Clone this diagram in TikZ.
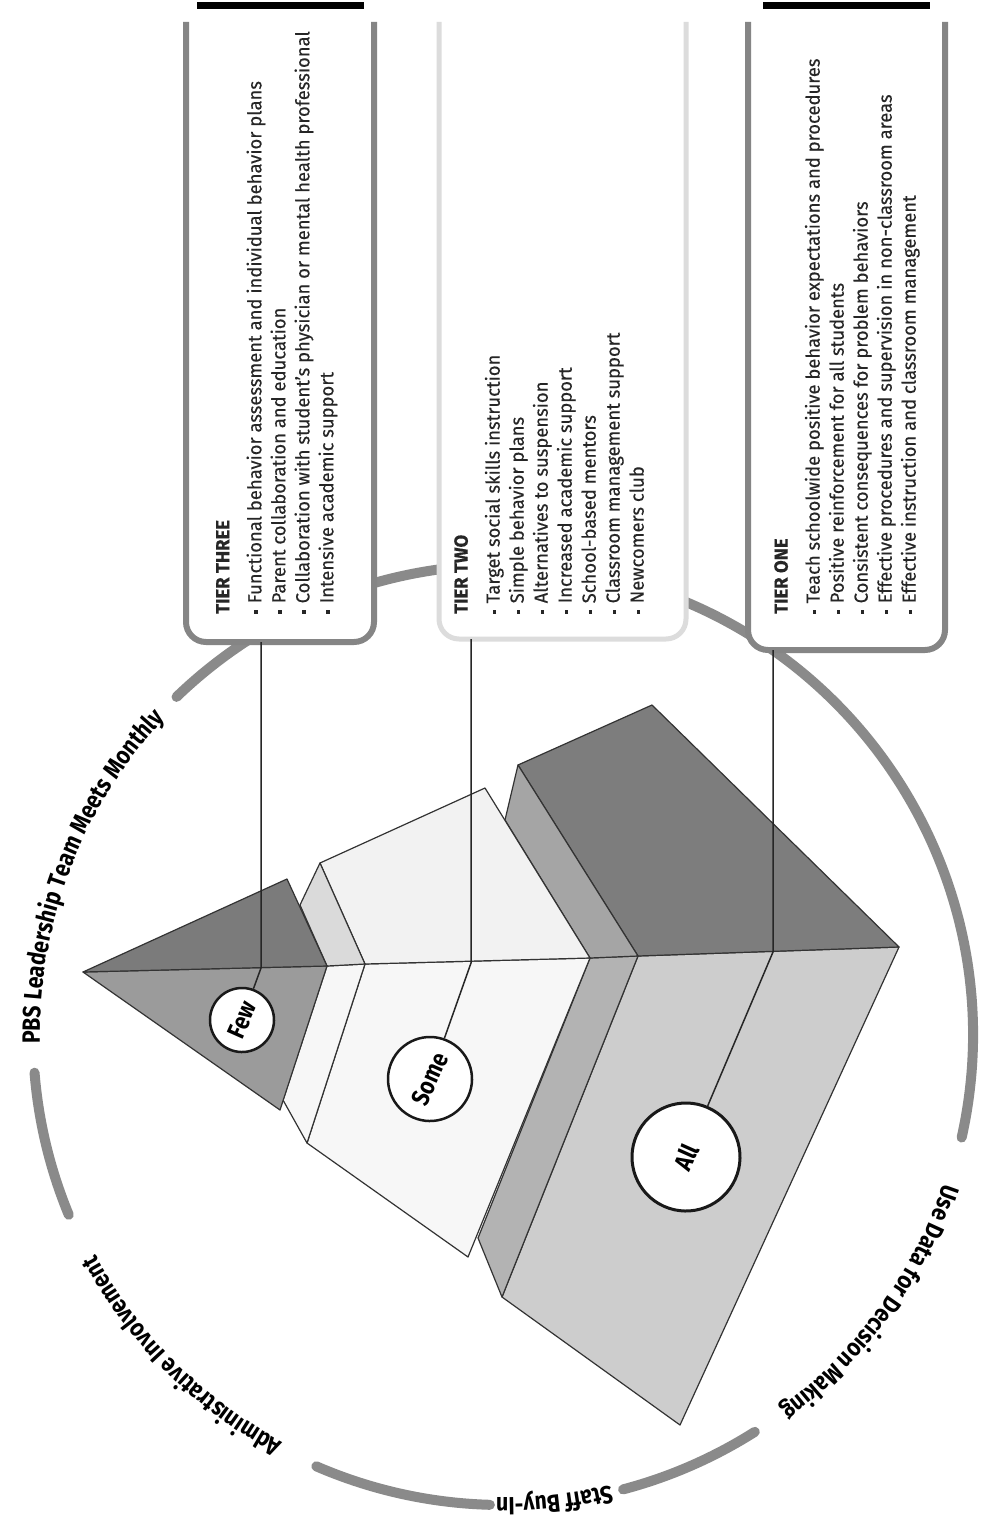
\documentclass[tikz,border=0pt]{standalone}
\usepackage{fontspec}
\setmainfont{Fira Sans}
\newfontfamily\ringfont[FakeStretch=0.85]{Fira Sans}
\newfontfamily\tierfont[FakeStretch=0.97,FakeBold=0.3]{Fira Sans}
\usetikzlibrary{decorations.text}
\definecolor{ringgray}{HTML}{8A8A8A}
\definecolor{boxgray}{HTML}{858585}
\definecolor{boxlight}{HTML}{DCDCDC}
\definecolor{fewtop}{HTML}{7B7B7B}
\definecolor{fewfront}{HTML}{9B9B9B}
\definecolor{somesliver}{HTML}{DADADA}
\definecolor{sometop}{HTML}{F2F2F2}
\definecolor{somefront}{HTML}{F7F7F7}
\definecolor{allsideup}{HTML}{A5A5A5}
\definecolor{alltop}{HTML}{7D7D7D}
\definecolor{allsidelow}{HTML}{B3B3B3}
\definecolor{allfront}{HTML}{CDCDCD}
\newcommand{\tbul}{\raisebox{3.5pt}{\rule{3.5pt}{3.5pt}}\hspace{7pt}}
\tikzset{
  ringarc/.style={draw=ringgray, line width=10pt, line cap=round},
  face/.style={draw=black!80, line width=1.2pt, line join=round},
  tierbox/.style={draw=boxgray, line width=6pt, fill=white, rounded corners=20pt},
  tierboxlight/.style={draw=boxlight, line width=5pt, fill=white, rounded corners=20pt},
  tiertext/.style={rotate=90, anchor=north west, inner sep=0pt, align=left,
    font=\tierfont\fontsize{19}{24}\selectfont, text=black!85},
  lab/.style={circle, draw=black!90, line width=2.5pt, fill=white, inner sep=0pt,
    font=\ringfont\bfseries\fontsize{25}{25}\selectfont},
  conn/.style={draw=black!85, line width=1.5pt},
  bar/.style={fill=black}
}
\begin{document}
\begin{tikzpicture}[x=1pt,y=1pt]
\useasboundingbox (0,0) rectangle (984,-1528);
\fill[white] (0,0) rectangle (984,-1528);
\coordinate (ctr) at (503,-1035);
% ring arcs
\draw[ringarc] (ctr) ++(-12.6:470pt) arc[start angle=-12.6, end angle=134, radius=470pt];
\draw[ringarc] (ctr) ++(184.6:470pt) arc[start angle=184.6, end angle=202.5, radius=470pt];
\draw[ringarc] (ctr) ++(246.6:470pt) arc[start angle=246.6, end angle=268.4, radius=470pt];
\draw[ringarc] (ctr) ++(284.8:470pt) arc[start angle=284.8, end angle=302.4, radius=470pt];
% ring texts
\path[decorate, decoration={text along path, text align=center,
  text={|\ringfont\bfseries\fontsize{25}{25}\selectfont|PBS Leadership Team Meets Monthly}}]
  (ctr) ++(204:463pt) arc[start angle=204, end angle=114, radius=463pt];
\path[decorate, decoration={text along path, text align=center,
  text={|\ringfont\bfseries\fontsize{25}{25}\selectfont|Administrative Involvement}}]
  (ctr) ++(270:463pt) arc[start angle=270, end angle=180, radius=463pt];
\path[decorate, decoration={text along path, text align=center,
  text={|\ringfont\bfseries\fontsize{25}{25}\selectfont|Staff Buy-In}}]
  (ctr) ++(306.3:463pt) arc[start angle=306.3, end angle=246.3, radius=463pt];
\path[decorate, decoration={text along path, text align=center,
  text={|\ringfont\bfseries\fontsize{25}{25}\selectfont|Use Data for Decision Making}}]
  (ctr) ++(369:465pt) arc[start angle=369, end angle=279, radius=465pt];
% tier boxes
\path[tierbox] (186,-22) -- (186,-642) -- (374,-642) -- (374,-22);
\path[tierboxlight] (439,-22) -- (439,-639) -- (686,-639) -- (686,-22);
\path[tierbox] (748,-22) -- (748,-650) -- (945,-650) -- (945,-22);
\coordinate (t3b) at (261,-642);
\coordinate (t2b) at (471,-639);
\coordinate (t1b) at (773,-650);
\node[tiertext] (t3txt) at (216,-614) {\textbf{TIER THREE}\\[8pt]
\tbul Functional behavior assessment and individual behavior plans\\
\tbul Parent collaboration and education\\
\tbul Collaboration with student’s physician or mental health professional\\
\tbul Intensive academic support};
\node[tiertext] (t2txt) at (454,-614) {\textbf{TIER TWO}\\[8pt]
\tbul Target social skills instruction\\
\tbul Simple behavior plans\\
\tbul Alternatives to suspension\\
\tbul Increased academic support\\
\tbul School-based mentors\\
\tbul Classroom management support\\
\tbul Newcomers club};
\node[tiertext] (t1txt) at (774,-614) {\textbf{TIER ONE}\\[8pt]
\tbul Teach schoolwide positive behavior expectations and procedures\\
\tbul Positive reinforcement for all students\\
\tbul Consistent consequences for problem behaviors\\
\tbul Effective procedures and supervision in non-classroom areas\\
\tbul Effective instruction and classroom management};
% pyramid: tier one block (All)
\path[face, fill=allfront] (638,-956) -- (899,-947) -- (680,-1425) -- (502,-1297) -- cycle;
\path[face, fill=allsidelow] (590,-958) -- (638,-956) -- (502,-1297) -- (478,-1238) -- cycle;
\path[face, fill=alltop] (518,-765) -- (652,-705) -- (899,-947) -- (638,-956) -- cycle;
\path[face, fill=allsideup] (518,-765) -- (638,-956) -- (590,-958) -- (505,-820) -- cycle;
% tier two block (Some)
\path[face, fill=somefront] (365,-964) -- (590,-958) -- (468,-1257) -- (307,-1143) -- cycle;
\path[face, fill=somefront] (327,-966) -- (365,-964) -- (307,-1143) -- (283,-1100) -- cycle;
\path[face, fill=sometop] (320,-863) -- (485,-788) -- (590,-958) -- (365,-964) -- cycle;
\path[face, fill=somesliver] (320,-863) -- (365,-964) -- (327,-966) -- (300,-905) -- cycle;
% tier three block (Few)
\path[face, fill=fewfront] (83,-972) -- (327,-966) -- (280,-1110) -- cycle;
\path[face, fill=fewtop] (83,-972) -- (287,-879) -- (327,-966) -- cycle;
% label circles
\node[lab, minimum size=64pt, rotate=66] (few) at (242,-1020) {Few};
\node[lab, minimum size=84pt, rotate=66] (some) at (430,-1079) {Some};
\node[lab, minimum size=108pt, line width=3pt, rotate=66] (all) at (686,-1157) {All};
% connectors
\coordinate (j3) at (261,-968);
\coordinate (j2) at (471,-963);
\coordinate (j1) at (773,-952);
\draw[conn] (t3b) -- (j3) -- (few);
\draw[conn] (t2b) -- (j2) -- (some);
\draw[conn] (t1b) -- (j1) -- (all);
% top bars
\fill[bar] (197,-2) rectangle (364,-9);
\fill[bar] (763,-2) rectangle (930,-9);
\end{tikzpicture}
\end{document}
